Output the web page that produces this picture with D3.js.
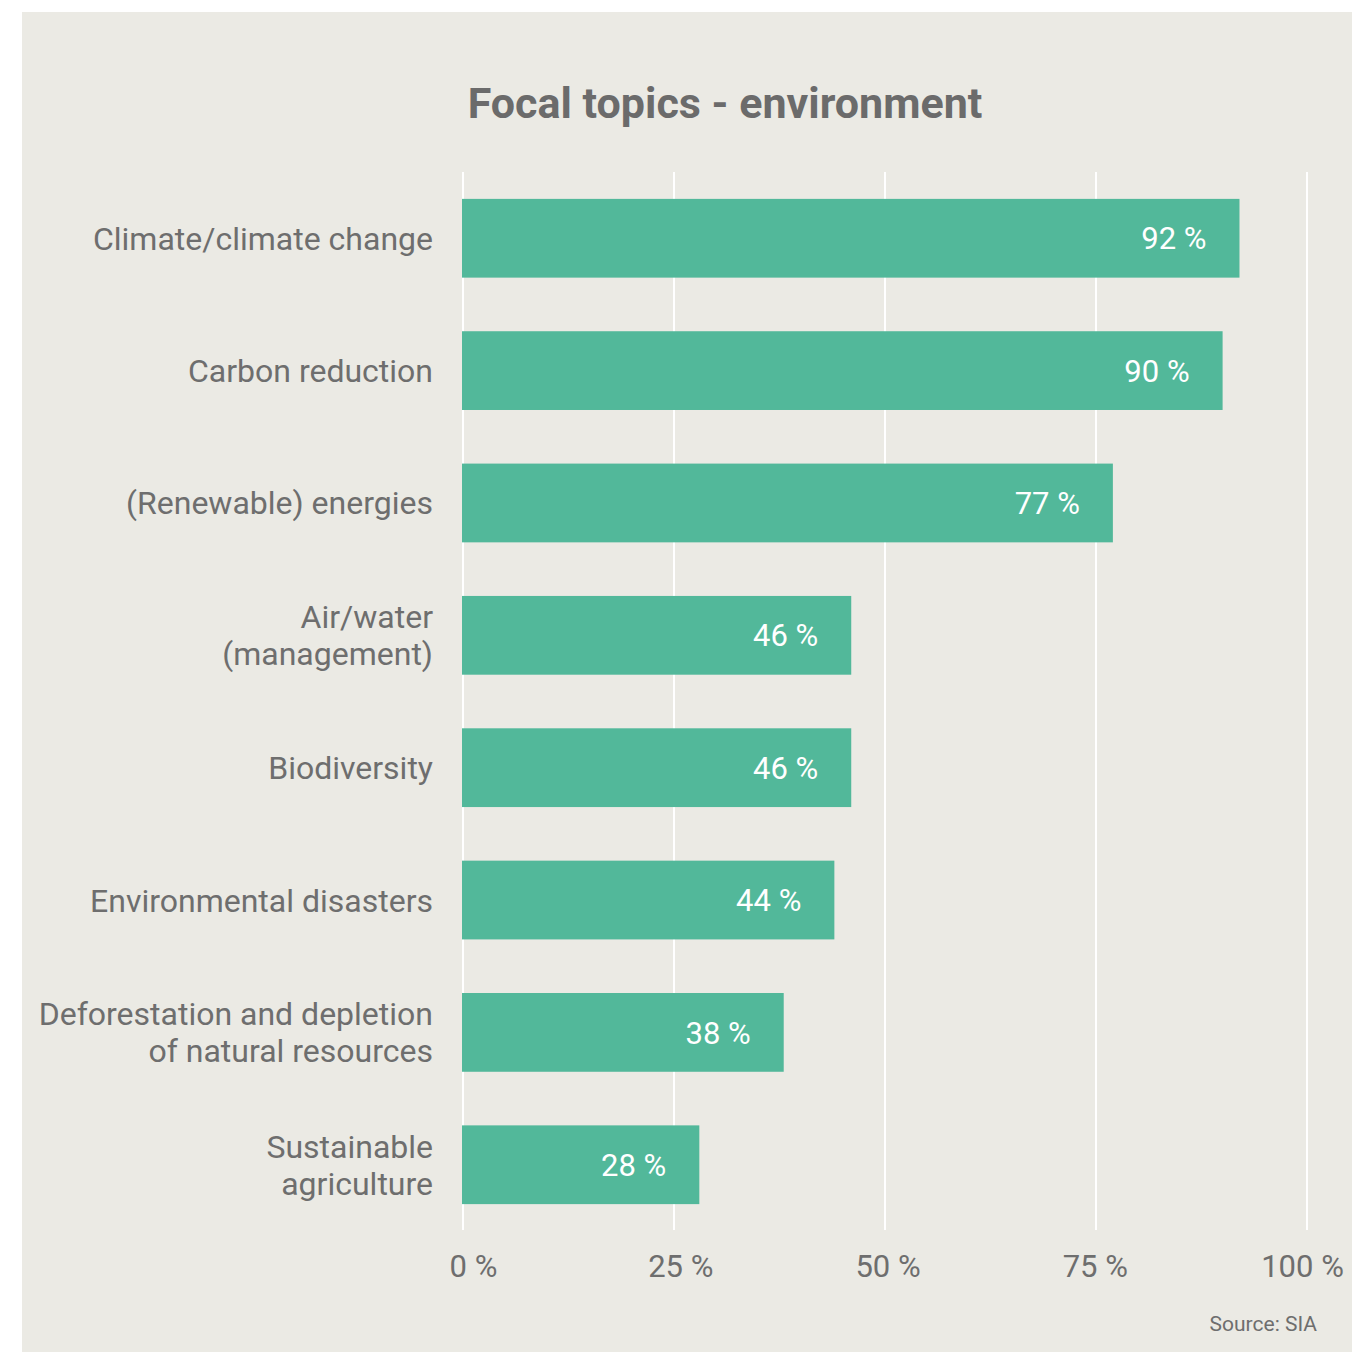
<!DOCTYPE html>
<html>
<head>
<meta charset="utf-8">
<script src="https://cdn.jsdelivr.net/npm/d3@7"></script>
<style>
  html, body { margin: 0; padding: 0; background: #ffffff; }
  svg { display: block; font-family: Roboto, "Noto Sans", sans-serif; }
</style>
</head>
<body>
<svg id="chart" width="1352" height="1352"></svg>
<script>
// Share of respondents naming each environmental topic
const categories = [
  ["Climate/climate change"],
  ["Carbon reduction"],
  ["(Renewable) energies"],
  ["Air/water", "(management)"],
  ["Biodiversity"],
  ["Environmental disasters"],
  ["Deforestation and depletion", "of natural resources"],
  ["Sustainable", "agriculture"]
];
const values = [92, 90, 77, 46, 46, 44, 38, 28];
const tickValues = [0, 25, 50, 75, 100];
const tickLabels = ["0 %", "25 %", "50 %", "75 %", "100 %"];
const titleText = "Focal topics - environment";
const sourceText = "Source: SIA";

const svg = d3.select("#chart");
const textColor = "#6e6e6e";

// panel background
svg.append("rect")
  .attr("x", 22).attr("y", 12)
  .attr("width", 1330).attr("height", 1340)
  .attr("fill", "#ebeae4");

svg.append("text")
  .attr("x", 725).attr("y", 118)
  .attr("text-anchor", "middle")
  .attr("font-size", 43)
  .attr("font-weight", 700)
  .attr("fill", "#6b6b6b")
  .text(titleText);

const x = d3.scaleLinear().domain([0, 100]).range([463, 1307]);
const y = d3.scaleBand()
  .domain(d3.range(categories.length))
  .range([183, 1220])
  .paddingInner(0.405)
  .paddingOuter(0.12);

// vertical grid lines
svg.append("g")
  .selectAll("line")
  .data(tickValues)
  .join("line")
  .attr("x1", d => x(d)).attr("x2", d => x(d))
  .attr("y1", 172).attr("y2", 1230)
  .attr("stroke", "#ffffff")
  .attr("stroke-width", 2);

// bars
svg.append("g")
  .selectAll("rect")
  .data(values)
  .join("rect")
  .attr("x", x(0) - 1)
  .attr("y", (d, i) => y(i))
  .attr("width", d => x(d) - x(0) + 1)
  .attr("height", y.bandwidth())
  .attr("fill", "#52b89a");

// value labels inside bars
svg.append("g")
  .selectAll("text")
  .data(values)
  .join("text")
  .attr("x", d => x(d) - 33)
  .attr("y", (d, i) => y(i) + y.bandwidth() / 2)
  .attr("dy", "0.36em")
  .attr("text-anchor", "end")
  .attr("font-size", 31)
  .attr("fill", "#ffffff")
  .text(d => d + " %");

// category labels
const lineGap = 37;
const catG = svg.append("g");
categories.forEach((lines, i) => {
  const cy = y(i) + y.bandwidth() / 2;
  const t = catG.append("text")
    .attr("text-anchor", "end")
    .attr("font-size", 32)
    .attr("fill", textColor);
  lines.forEach((ln, j) => {
    t.append("tspan")
      .attr("x", 433)
      .attr("y", cy + (j - (lines.length - 1) / 2) * lineGap)
      .attr("dy", "0.36em")
      .text(ln);
  });
});

// x axis tick labels, pulled slightly inward so the outer ones stay inside the panel
const xLabel = d3.scaleLinear().domain([0, 100]).range([473, 1302]);
const axis = d3.axisBottom(xLabel)
  .tickValues(tickValues)
  .tickFormat((d, i) => tickLabels[i])
  .tickSize(0)
  .tickPadding(0);
const axG = svg.append("g")
  .attr("transform", "translate(0,1255)")
  .call(axis);
axG.select(".domain").remove();
axG.selectAll("text")
  .attr("font-size", 31)
  .attr("font-family", "Roboto, sans-serif")
  .attr("fill", textColor);

svg.append("text")
  .attr("x", 1317).attr("y", 1331)
  .attr("text-anchor", "end")
  .attr("font-size", 21)
  .attr("fill", textColor)
  .text(sourceText);
</script>
</body>
</html>
